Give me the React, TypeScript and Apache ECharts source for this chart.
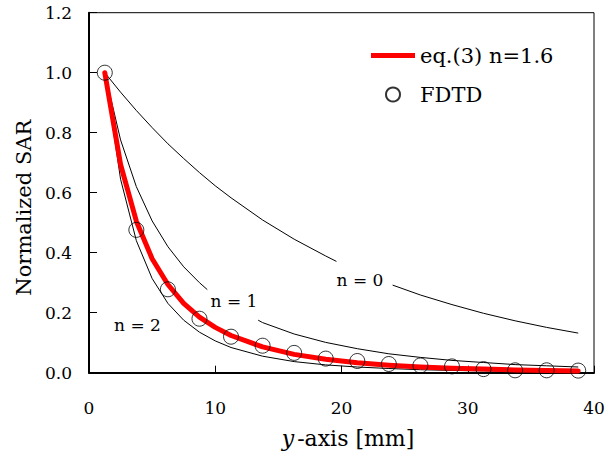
import React, { useEffect, useRef } from "react";
import * as echarts from "echarts";

// FDTD simulation points
const fdtdX = [1.25, 3.75, 6.25, 8.75, 11.25, 13.75, 16.25, 18.75, 21.25, 23.75, 26.25, 28.75, 31.25, 33.75, 36.25, 38.75];
const fdtdY = [1.0, 0.476, 0.278, 0.18, 0.12, 0.09, 0.066, 0.047, 0.039, 0.029, 0.024, 0.021, 0.012, 0.008, 0.008, 0.007];

// eq.(3) n=1.6 (red)
const eqX = [1.25, 2.5, 3.75, 5, 6.25, 7.5, 8.75, 10, 11.25, 13.75, 16.25, 18.75, 21.25, 23.75, 26.25, 28.75, 31.25, 33.75, 36.25, 38.75];
const eqY = [1.0, 0.694, 0.505, 0.38, 0.294, 0.231, 0.185, 0.151, 0.124, 0.086, 0.061, 0.045, 0.033, 0.025, 0.019, 0.015, 0.012, 0.009, 0.007, 0.006];

// n = 0 curve (gap where the label sits)
const n0X = [1.25, 2.5, 3.75, 5, 6.25, 7.5, 8.75, 10, 11.25, 13.75, 16.25, 18.75, 19.6, 21.5, 24.05, 26.25, 28.75, 31.25, 33.75, 36.25, 38.75];
const n0Y: (number | string)[] = [1.0, 0.935, 0.874, 0.817, 0.763, 0.714, 0.667, 0.623, 0.583, 0.509, 0.445, 0.389, 0.371, "-", 0.292, 0.259, 0.227, 0.198, 0.173, 0.151, 0.132];

// n = 1 curve (gap where the label sits)
const n1X = [1.25, 2.5, 3.75, 5, 6.25, 7.5, 8.75, 9.37, 11, 13.4, 13.75, 16.25, 18.75, 21.25, 23.75, 26.25, 28.75, 31.25, 33.75, 36.25, 38.75];
const n1Y: (number | string)[] = [1.0, 0.776, 0.62, 0.506, 0.42, 0.353, 0.3, 0.277, "-", 0.175, 0.167, 0.129, 0.101, 0.08, 0.063, 0.051, 0.041, 0.034, 0.027, 0.023, 0.019];

// n = 2 curve
const n2X = [1.25, 2.5, 3.75, 5, 6.25, 7.5, 8.75, 10, 11.25, 13.75, 16.25, 18.75, 21.25, 23.75, 26.25, 28.75, 31.25, 33.75, 36.25, 38.75];
const n2Y = [1.0, 0.645, 0.44, 0.314, 0.231, 0.175, 0.135, 0.106, 0.084, 0.055, 0.037, 0.026, 0.019, 0.014, 0.01, 0.0075, 0.006, 0.0045, 0.0035, 0.0026];

const xTicks = [0, 10, 20, 30, 40];
const yTicks = [0, 0.2, 0.4, 0.6, 0.8, 1.0, 1.2];

const FONT = "DejaVu Serif";

const zip = (xs: number[], ys: (number | string)[]) => xs.map((x, i) => [x, ys[i]]);

export default function App() {
  const ref = useRef<HTMLDivElement>(null);
  useEffect(() => {
    if (!ref.current) return;
    const chart = echarts.init(ref.current, undefined, { renderer: "svg" });
    const blackLine = (name: string, xs: number[], ys: (number | string)[]) => ({
      name,
      type: "line",
      data: zip(xs, ys),
      symbol: "none",
      connectNulls: false,
      lineStyle: { color: "#000", width: 1 },
      itemStyle: { color: "#000" },
      z: 2,
    });
    const label = (text: string, x: number, y: number) => ({
      type: "text",
      x,
      y,
      style: { text, fontFamily: FONT, fontSize: 17, fill: "#000", align: "center", verticalAlign: "middle" },
    });
    chart.setOption({
      animation: false,
      backgroundColor: "#fff",
      textStyle: { fontFamily: FONT },
      grid: {
        left: 89,
        right: 22,
        top: 12.7,
        bottom: 88.3,
        show: true,
        borderColor: "#000",
        borderWidth: 1,
        backgroundColor: "transparent",
      },
      legend: {
        data: [
          { name: "eq.(3) n=1.6", icon: "path://M0,0 L44,0 L44,5 L0,5 Z" },
          { name: "FDTD" },
        ],
        orient: "vertical",
        left: 366,
        top: 40,
        itemWidth: 44,
        itemHeight: 14,
        itemGap: 18,
        textStyle: { fontFamily: FONT, fontSize: 21, color: "#000" },
      },
      xAxis: {
        type: "value",
        min: xTicks[0],
        max: xTicks[xTicks.length - 1],
        interval: 10,
        name: "{i|y}-axis [mm]",
        nameLocation: "middle",
        nameGap: 55,
        nameTextStyle: {
          fontFamily: FONT,
          fontSize: 22,
          color: "#000",
          padding: [0, 0, 0, 13],
          rich: { i: { fontFamily: FONT, fontSize: 22, fontStyle: "italic", color: "#000", padding: [0, 3, 0, 0] } },
        },
        axisLine: { show: true, onZero: false, lineStyle: { color: "#000", width: 2 } },
        axisTick: { show: true, inside: true, length: 7, lineStyle: { color: "#000", width: 1 } },
        axisLabel: { fontFamily: FONT, fontSize: 17, color: "#000", margin: 27 },
        splitLine: { show: false },
      },
      yAxis: {
        type: "value",
        min: yTicks[0],
        max: yTicks[yTicks.length - 1],
        interval: 0.2,
        name: "Normalized SAR",
        nameLocation: "middle",
        nameGap: 54,
        nameTextStyle: { fontFamily: FONT, fontSize: 21, color: "#000", padding: [0, 0, 0, -30] },
        axisLine: { show: true, onZero: false, lineStyle: { color: "#000", width: 2 } },
        axisTick: { show: true, inside: true, length: 8, lineStyle: { color: "#000", width: 1 } },
        axisLabel: {
          fontFamily: FONT,
          fontSize: 17,
          color: "#000",
          margin: 17,
          formatter: (v: number) => v.toFixed(1),
        },
        splitLine: { show: false },
      },
      graphic: [label("n = 0", 360, 280), label("n = 1", 234, 301), label("n = 2", 137.5, 324.5)],
      series: [
        blackLine("n = 0", n0X, n0Y),
        blackLine("n = 1", n1X, n1Y),
        blackLine("n = 2", n2X, n2Y),
        {
          name: "eq.(3) n=1.6",
          type: "line",
          data: zip(eqX, eqY),
          symbol: "none",
          lineStyle: { color: "#ff0000", width: 5, cap: "round", join: "round" },
          itemStyle: { color: "#ff0000" },
          z: 3,
        },
        {
          name: "FDTD",
          type: "scatter",
          data: zip(fdtdX, fdtdY),
          symbol: "circle",
          symbolSize: 15,
          itemStyle: { color: "rgba(0,0,0,0)", borderColor: "#000", borderWidth: 1 },
          z: 4,
        },
      ],
    });
    return () => chart.dispose();
  }, []);
  return <div ref={ref} style={{ width: 616, height: 461, position: "absolute", left: 0, top: 0 }} />;
}
